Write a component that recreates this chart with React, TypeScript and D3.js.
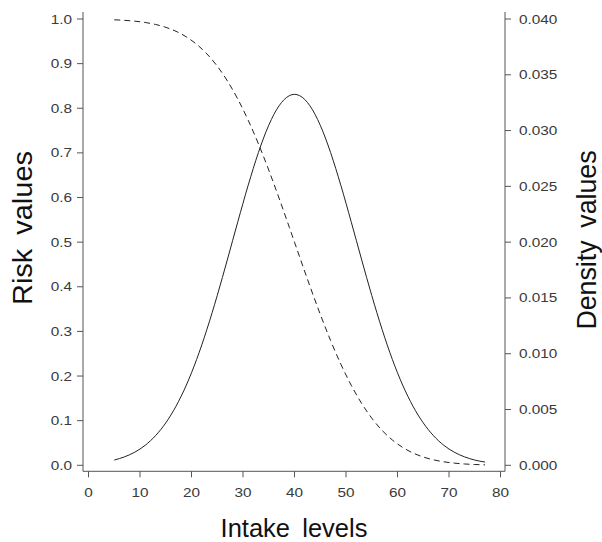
import React from "react";
import * as d3 from "d3";

const intake = [5, 7, 9, 11, 13, 15, 17, 19, 21, 23, 25, 27, 29, 31, 33, 35, 37, 39, 40, 41, 43, 45, 47, 49, 51, 53, 55, 57, 59, 61, 63, 65, 67, 69, 71, 73, 75, 77];
const riskValues = [0.9982, 0.997, 0.9951, 0.9922, 0.9878, 0.9814, 0.9724, 0.9599, 0.9433, 0.9217, 0.8944, 0.8607, 0.8203, 0.7734, 0.7202, 0.6615, 0.5987, 0.5332, 0.5, 0.4668, 0.4013, 0.3385, 0.2798, 0.2266, 0.1797, 0.1393, 0.1057, 0.0783, 0.0567, 0.0401, 0.0276, 0.0186, 0.0122, 0.0078, 0.0049, 0.003, 0.0018, 0.001];
const densityValues = [0.00047, 0.00076, 0.00118, 0.00179, 0.00265, 0.0038, 0.0053, 0.00719, 0.00949, 0.01219, 0.01522, 0.01849, 0.02184, 0.02509, 0.02804, 0.03048, 0.03222, 0.03313, 0.03325, 0.03313, 0.03222, 0.03048, 0.02804, 0.02509, 0.02184, 0.01849, 0.01522, 0.01219, 0.00949, 0.00719, 0.0053, 0.0038, 0.00265, 0.00179, 0.00118, 0.00076, 0.00047, 0.00029];
const xTicks = [0, 10, 20, 30, 40, 50, 60, 70, 80];
const riskTicks = [0, 0.1, 0.2, 0.3, 0.4, 0.5, 0.6, 0.7, 0.8, 0.9, 1.0];
const densityTicks = [0, 0.005, 0.01, 0.015, 0.02, 0.025, 0.03, 0.035, 0.04];

const W = 602;
const H = 542;
const axisLeft = 83;
const axisRight = 505;
const axisBottom = 471.3;
const axisTop = 12;

export default function App() {
  const x = d3.scaleLinear().domain([0, 80]).range([88.5, 500.5]);
  const yRisk = d3.scaleLinear().domain([0, 1]).range([465.3, 19]);
  const yDens = d3.scaleLinear().domain([0, 0.04]).range([465.3, 19]);

  const riskLine = d3
    .line<number>()
    .x((_, i) => x(intake[i]))
    .y((d) => yRisk(d))
    .curve(d3.curveMonotoneX);
  const densLine = d3
    .line<number>()
    .x((_, i) => x(intake[i]))
    .y((d) => yDens(d))
    .curve(d3.curveMonotoneX);

  const tickFont = { fontFamily: "'Liberation Sans', Arial, sans-serif", fontSize: 13, fill: "#3a3a3a" };
  const titleFont = { fontFamily: "'Liberation Sans', Arial, sans-serif", fontSize: 25, fill: "#111", wordSpacing: 5 };
  const axisColor = "#555";
  const sx = 1.18;

  return (
    <svg width={W} height={H} style={{ position: "absolute", left: 0, top: 0, background: "#fff" }}>
      <rect x={0} y={0} width={W} height={H} fill="#fff" />
      {/* axis lines */}
      <line x1={axisLeft} x2={axisLeft} y1={axisTop} y2={axisBottom} stroke={axisColor} strokeWidth={1} />
      <line x1={axisRight} x2={axisRight} y1={axisTop} y2={axisBottom} stroke={axisColor} strokeWidth={1} />
      <line x1={axisLeft} x2={axisRight} y1={axisBottom} y2={axisBottom} stroke={axisColor} strokeWidth={1} />

      {/* left ticks */}
      {riskTicks.map((t) => (
        <g key={"r" + t}>
          <line x1={axisLeft - 6} x2={axisLeft} y1={yRisk(t)} y2={yRisk(t)} stroke={axisColor} />
          <text
            transform={`translate(72,${yRisk(t) + 4.5}) scale(${sx},1)`}
            textAnchor="end"
            style={tickFont}
          >
            {d3.format(".1f")(t)}
          </text>
        </g>
      ))}

      {/* right ticks */}
      {densityTicks.map((t) => (
        <g key={"d" + t}>
          <line x1={axisRight} x2={axisRight + 6} y1={yDens(t)} y2={yDens(t)} stroke={axisColor} />
          <text
            transform={`translate(519,${yDens(t) + 4.5}) scale(${sx},1)`}
            textAnchor="start"
            style={tickFont}
          >
            {d3.format(".3f")(t)}
          </text>
        </g>
      ))}

      {/* bottom ticks */}
      {xTicks.map((t) => (
        <g key={"x" + t}>
          <line x1={x(t)} x2={x(t)} y1={axisBottom} y2={axisBottom + 6} stroke={axisColor} />
          <text
            transform={`translate(${x(t)},497) scale(${sx},1)`}
            textAnchor="middle"
            style={tickFont}
          >
            {t}
          </text>
        </g>
      ))}

      {/* curves */}
      <path d={riskLine(riskValues) || ""} fill="none" stroke="#222" strokeWidth={1} strokeDasharray="6,4" />
      <path d={densLine(densityValues) || ""} fill="none" stroke="#222" strokeWidth={1} />

      {/* titles */}
      <text transform={`translate(294,537) scale(1.02,1)`} textAnchor="middle" style={titleFont}>
        Intake levels
      </text>
      <text transform={`translate(32,228) rotate(-90) scale(1.16,1.12)`} textAnchor="middle" style={titleFont}>
        Risk values
      </text>
      <text transform={`translate(596,240) rotate(-90) scale(1.07,1.1)`} textAnchor="middle" style={titleFont}>
        Density values
      </text>
    </svg>
  );
}
